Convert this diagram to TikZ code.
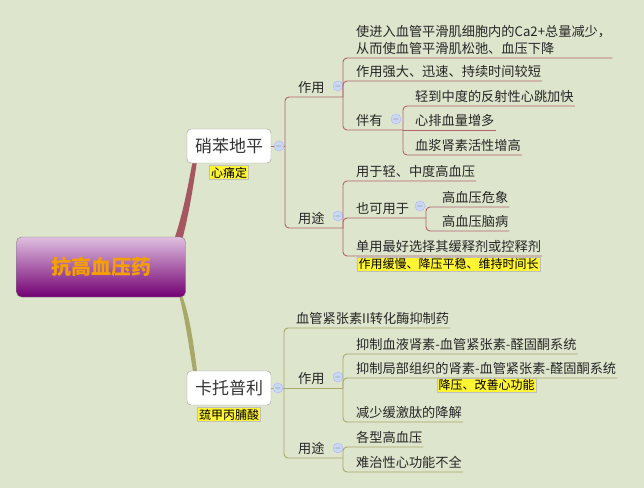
\documentclass[tikz,border=0pt]{standalone}
\usepackage{fontspec}
\setmainfont{Noto Sans CJK SC}
\usetikzlibrary{positioning}
\definecolor{bgc}{HTML}{DDE5CD}
\definecolor{redl}{HTML}{B8606A}
\definecolor{olvl}{HTML}{A8A868}
\definecolor{foldc}{HTML}{C9D9F2}
\definecolor{rootc}{HTML}{F5A000}
\tikzset{
  leaf/.style={anchor=south west,inner xsep=1pt,inner ysep=3pt,font=\fontsize{13.2}{17}\selectfont,text=black!85},
  mainbox/.style={rectangle,rounded corners=4pt,draw=black!40,fill=white,minimum width=84pt,minimum height=34pt,font=\fontsize{17}{20}\selectfont,text=black!80},
  tag/.style={fill=yellow!80!white,draw=black!25,inner sep=1.5pt,font=\fontsize{12}{14}\selectfont},
  fold/.style={circle,draw=blue!30,fill=foldc,minimum size=10pt,inner sep=0pt,font=\fontsize{8}{8}\selectfont,text=black!60},
  rline/.style={draw=redl,line width=0.9pt,rounded corners=4pt},
  oline/.style={draw=olvl,line width=0.9pt,rounded corners=4pt},
}
\begin{document}
\begin{tikzpicture}[x=1pt,y=-1pt]
\useasboundingbox[fill=bgc] (0,0) rectangle (644,488);
% main branches
\fill[redl!90!black] (168,256) .. controls (185,215) and (190,170) .. (196,146) -- (199,148) .. controls (194,180) and (188,230) .. (172,272) -- cycle;
\fill[olvl] (168,262) .. controls (185,300) and (190,360) .. (196,388) -- (199,386) .. controls (194,350) and (190,300) .. (172,276) -- cycle;
% root
\node[rectangle,rounded corners=5pt,draw=black!50,top color=violet!25,bottom color=violet!90!black,
  minimum width=169pt,minimum height=60pt,font=\fontsize{20}{24}\selectfont\bfseries,text=rootc] (root) at (101,267) {抗高血压药};
% ---- 硝苯地平
\node[mainbox] (top) at (229,146) {硝苯地平};
\node[tag,below=2pt of top] (topt) {心痛定};
\coordinate (tb) at (285,146);
\draw[rline] (top.east) -- (tb);
\node[fold] (tf) at (279,146) {$-$};
\node[leaf] (zy1) at (297,97) {作用};
\node[leaf] (yt1) at (297,228) {用途};
\coordinate (zb1) at (343,97);
\coordinate (yb1) at (343,228);
\draw[rline] (tb) |- (zb1);
\draw[rline] (tb) |- (yb1);
\node[fold] (zf1) at (338,86) {$-$};
\node[fold] (yf1) at (338,216) {$-$};
% 作用
\node[leaf,align=left] (a1) at (355,58) {使进入血管平滑肌细胞内的Ca2+总量减少，\\从而使血管平滑肌松弛、血压下降};
\node[leaf] (a2) at (355,81) {作用强大、迅速、持续时间较短};
\node[leaf] (a3) at (355,130) {伴有};
\coordinate (ab3) at (403,130);
\draw[rline] (zb1) |- (a1.south east);
\draw[rline] (zb1) |- (a2.south east);
\draw[rline] (zb1) |- (ab3);
\node[fold] (af3) at (396,119) {$-$};
\node[leaf] (b1) at (414,106) {轻到中度的反射性心跳加快};
\node[leaf] (b2) at (414,130) {心排血量增多};
\node[leaf] (b3) at (414,155) {血浆肾素活性增高};
\draw[rline] (ab3) |- (b1.south east);
\draw[rline] (ab3) -- (b2.south east);
\draw[rline] (ab3) |- (b3.south east);
% 用途
\node[leaf] (c1) at (355,181) {用于轻、中度高血压};
\node[leaf] (c2) at (355,218) {也可用于};
\coordinate (cb2) at (426,218);
\node[leaf] (c3) at (355,256) {单用最好选择其缓释剂或控释剂};
\draw[rline] (yb1) |- (c1.south east);
\draw[rline] (yb1) |- (cb2);
\draw[rline] (yb1) |- (c3.south east);
\node[fold] (cf2) at (420,206) {$-$};
\node[tag,anchor=north west] (c3t) at (357,257) {作用缓慢、降压平稳、维持时间长};
\node[leaf] (d1) at (441,207) {高血压危象};
\node[leaf] (d2) at (441,231) {高血压脑病};
\draw[rline] (cb2) |- (d1.south east);
\draw[rline] (cb2) |- (d2.south east);
% ---- 卡托普利
\node[mainbox] (bot) at (229,388) {卡托普利};
\node[tag,below=2pt of bot] (bott) {巯甲丙脯酸};
\coordinate (bb) at (284,388);
\draw[oline] (bot.east) -- (bb);
\node[leaf] (e0) at (295,328) {血管紧张素II转化酶抑制药};
\node[leaf] (zy2) at (297,388) {作用};
\node[leaf] (yt2) at (297,458) {用途};
\coordinate (zb2) at (343,388);
\coordinate (yb2) at (343,458);
\draw[oline] (bb) |- (e0.south east);
\draw[oline] (bb) -- (zb2);
\draw[oline] (bb) |- (yb2);
\node[fold] (bf) at (278,388) {$-$};
\node[fold] (zf2) at (338,377) {$-$};
\node[fold] (yf2) at (338,448) {$-$};
\node[leaf] (f1) at (355,354) {抑制血液肾素-血管紧张素-醛固酮系统};
\node[leaf] (f2) at (355,378) {抑制局部组织的肾素-血管紧张素-醛固酮系统};
\node[leaf] (f3) at (355,422) {减少缓激肽的降解};
\draw[oline] (zb2) |- (f1.south east);
\draw[oline] (zb2) |- (f2.south east);
\draw[oline] (zb2) |- (f3.south east);
\node[tag,anchor=north west] (f2t) at (437,378) {降压、改善心功能};
\node[leaf] (g1) at (355,447) {各型高血压};
\node[leaf] (g2) at (355,472) {难治性心功能不全};
\draw[oline] (yb2) |- (g1.south east);
\draw[oline] (yb2) |- (g2.south east);
\end{tikzpicture}
\end{document}
